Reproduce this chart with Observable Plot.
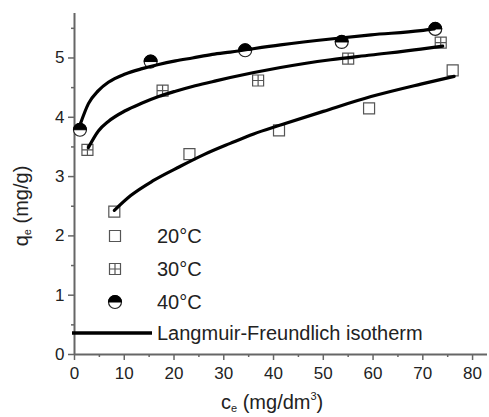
<!DOCTYPE html>
<html><head><meta charset="utf-8">
<script src="https://cdn.jsdelivr.net/npm/d3@7"></script>
<script src="https://cdn.jsdelivr.net/npm/@observablehq/plot@0.6"></script>
<style>
body{margin:0;background:#fff;}
#wrap{position:relative;width:489px;height:417px;font-family:"Liberation Sans",Arial,sans-serif;color:#222;}
.ttl{position:absolute;font-size:20px;white-space:nowrap;line-height:1;}
.ttl sub{font-size:11px;vertical-align:-3px;}
.ttl sup{font-size:11px;vertical-align:9px;}
</style></head><body><div id="wrap"></div>
<script>
// measured points
const c20 = [8.0, 23.1, 41.1, 59.2, 76.0];
const q20 = [2.41, 3.38, 3.78, 4.15, 4.79];
const c30 = [2.6, 17.7, 36.9, 55.0, 73.6];
const q30 = [3.45, 4.45, 4.62, 4.99, 5.26];
const c40 = [1.1, 15.3, 34.3, 53.7, 72.5];
const q40 = [3.79, 4.94, 5.13, 5.27, 5.49];
// fitted curves
const fc20 = [8.0, 11.3, 15.8, 21.2, 26.0, 31.3, 36.0, 41.4, 50.0, 59.6, 69.6, 76.3];
const fq20 = [2.43, 2.68, 2.93, 3.17, 3.37, 3.56, 3.72, 3.87, 4.10, 4.35, 4.56, 4.69];
const fc30 = [2.8, 4.8, 6.8, 10.2, 13.6, 16.9, 20.3, 23.7, 27.7, 31.3, 41.4, 51.5, 59.6, 69.6, 74.0];
const fq30 = [3.49, 3.77, 3.93, 4.11, 4.24, 4.35, 4.44, 4.52, 4.60, 4.67, 4.84, 4.97, 5.05, 5.15, 5.20];
const fc40 = [1.1, 2.8, 4.8, 6.8, 10.2, 13.6, 16.9, 20.3, 23.7, 27.7, 31.3, 41.4, 51.5, 59.6, 69.6, 72.3];
const fq40 = [3.87, 4.23, 4.45, 4.59, 4.73, 4.82, 4.89, 4.95, 5.00, 5.06, 5.10, 5.22, 5.32, 5.39, 5.46, 5.49];
// ticks & labels
const xMajor = [0, 10, 20, 30, 40, 50, 60, 70, 80];
const xMinor = [5, 15, 25, 35, 45, 55, 65, 75];
const yMajor = [0, 1, 2, 3, 4, 5];
const yMinor = [0.5, 1.5, 2.5, 3.5, 4.5, 5.5];
const seriesLabels = ["20°C", "30°C", "40°C"];
const fitLabel = "Langmuir-Freundlich isotherm";

const toRows = (cs, qs) => cs.map((c, i) => ({c, q: qs[i]}));

const rad = size => Math.sqrt(size / Math.PI);
const squareSym = {draw(ctx, size) { const h = rad(size); ctx.rect(-h, -h, 2 * h, 2 * h); }};
const crossSym = {draw(ctx, size) { const h = rad(size); ctx.rect(-h, -h, 2 * h, 2 * h);
  ctx.moveTo(-h, 0); ctx.lineTo(h, 0); ctx.moveTo(0, -h); ctx.lineTo(0, h); }};
const halfSym = {draw(ctx, size) { const r = rad(size); ctx.moveTo(-r, 0); ctx.arc(0, 0, r, Math.PI, 2 * Math.PI); ctx.closePath(); }};

const axisCol = "#666";
const plot = Plot.plot({
  width: 489, height: 417,
  marginLeft: 74, marginRight: 2, marginTop: 13, marginBottom: 63,
  x: {domain: [0, 83]},
  y: {domain: [0, 5.75]},
  style: {fontFamily: '"Liberation Sans", Arial, sans-serif', background: "#fff"},
  marks: [
    Plot.axisX({ticks: xMinor, tickSize: 3, tickFormat: () => "", label: null, stroke: axisCol, strokeWidth: 1.5}),
    Plot.axisX({ticks: xMajor, tickSize: 6, tickPadding: 6, fontSize: 17, tickFormat: d => String(d), label: null, stroke: axisCol, strokeWidth: 1.5, fill: "#222"}),
    Plot.axisY({ticks: yMinor, tickSize: 3, tickFormat: () => "", label: null, stroke: axisCol, strokeWidth: 1.5}),
    Plot.axisY({ticks: yMajor, tickSize: 6, tickPadding: 4, fontSize: 17, tickFormat: d => String(d), label: null, stroke: axisCol, strokeWidth: 1.5, fill: "#222"}),
    Plot.ruleY([0], {stroke: axisCol, strokeWidth: 2}),
    Plot.ruleX([0], {stroke: axisCol, strokeWidth: 2}),
    Plot.dot(toRows(c20, q20), {x: "c", y: "q", symbol: squareSym, r: 5.5, stroke: "#555", strokeWidth: 1.2, fill: "none"}),
    Plot.dot(toRows(c30, q30), {x: "c", y: "q", symbol: crossSym, r: 5.5, stroke: "#555", strokeWidth: 1.2, fill: "none"}),
    Plot.dot(toRows(c40, q40), {x: "c", y: "q", r: 6.5, stroke: "#222", strokeWidth: 1.2, fill: "#fff"}),
    Plot.dot(toRows(c40, q40), {x: "c", y: "q", symbol: halfSym, r: 6.5, stroke: "#000", strokeWidth: 1, fill: "#000"}),
    Plot.line(toRows(fc20, fq20), {x: "c", y: "q", curve: "monotone-x", stroke: "#000", strokeWidth: 3.2}),
    Plot.line(toRows(fc30, fq30), {x: "c", y: "q", curve: "monotone-x", stroke: "#000", strokeWidth: 3.2}),
    Plot.line(toRows(fc40, fq40), {x: "c", y: "q", curve: "monotone-x", stroke: "#000", strokeWidth: 3.2})
  ]
});
const wrap = document.getElementById("wrap");
wrap.appendChild(plot);

// legend overlay
const svg = d3.select(wrap).append("svg")
  .attr("width", 489).attr("height", 417)
  .style("position", "absolute").style("left", "0px").style("top", "0px");
const syms = [squareSym, crossSym, halfSym];
const rowsY = [236, 269, 302];
seriesLabels.forEach((lab, i) => {
  const g = svg.append("g").attr("transform", `translate(115,${rowsY[i]})`);
  if (i === 2) {
    g.append("circle").attr("r", 6.5).attr("fill", "#fff").attr("stroke", "#222").attr("stroke-width", 1.2);
    g.append("path").attr("d", d3.symbol(halfSym, Math.PI * 6.5 * 6.5)()).attr("fill", "#000").attr("stroke", "#000");
  } else {
    g.append("path").attr("d", d3.symbol(syms[i], Math.PI * 5.5 * 5.5)()).attr("fill", "none").attr("stroke", "#555").attr("stroke-width", 1.2);
  }
  svg.append("text").attr("x", 157).attr("y", rowsY[i]).attr("dy", "0.36em")
    .attr("font-size", 20).attr("fill", "#222").text(lab);
});
svg.append("line").attr("x1", 72).attr("x2", 152).attr("y1", 333).attr("y2", 333)
  .attr("stroke", "#000").attr("stroke-width", 3.5);
svg.append("text").attr("x", 157).attr("y", 333).attr("dy", "0.36em")
  .attr("font-size", 20).attr("fill", "#222").text(fitLabel);

// axis titles
const xt = document.createElement("div");
xt.className = "ttl";
xt.innerHTML = "c<sub>e</sub> (mg/dm<sup>3</sup>)";
wrap.appendChild(xt);
xt.style.left = (272 - xt.offsetWidth / 2) + "px";
xt.style.top = "391px";
const yt = document.createElement("div");
yt.className = "ttl";
yt.innerHTML = "q<sub>e</sub> (mg/g)";
wrap.appendChild(yt);
yt.style.left = (22 - yt.offsetWidth / 2) + "px";
yt.style.top = (206 - yt.offsetHeight / 2) + "px";
yt.style.transform = "rotate(-90deg)";
</script></body></html>
